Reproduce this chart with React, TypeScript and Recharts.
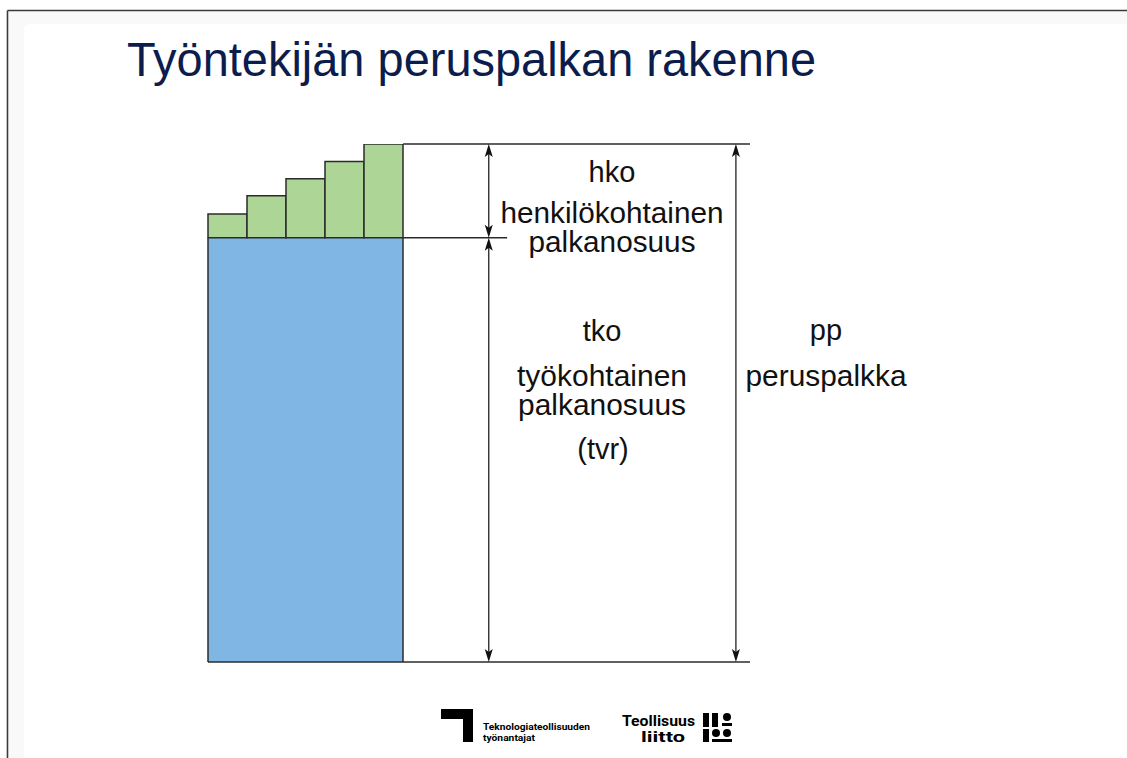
import React from 'react';
import { BarChart, Bar, XAxis, YAxis, ReferenceLine, LineChart } from 'recharts';

// ---- data ----
const steps = ['1', '2', '3', '4', '5'];
const tkoValues = [81.9, 81.9, 81.9, 81.9, 81.9]; // työkohtainen palkanosuus (tvr)
const hkoValues = [4.6, 8.1, 11.4, 14.7, 18.1]; // henkilökohtainen palkanosuus
const ppValue = 100; // peruspalkka (top)
const tkoValue = 81.9;

const title = 'Työntekijän peruspalkan rakenne';
const hkoLabel = ['hko', 'henkilökohtainen', 'palkanosuus'];
const tkoLabel = ['tko', 'työkohtainen', 'palkanosuus', '(tvr)'];
const ppLabel = ['pp', 'peruspalkka'];

const data = steps.map((s, i) => ({ step: s, tko: tkoValues[i], hko: hkoValues[i] }));
const annExtent = [0, 100];
const annData = annExtent.map((a) => ({ a }));

// ---- layout (annotation axis 0..100 spans the plot width) ----
const W = 1127;
const H = 758;
const PLOT_LEFT = 208;
const PLOT_RIGHT = 750;
const PLOT_TOP = 144;
const PLOT_BOTTOM = 662;
const BAR_RIGHT = 403;
const ANN = {
  barRight: 36,
  hkoArrow: 51.8,
  midLineEnd: 55.2,
  ppArrow: 97.4,
  end: 100,
};
const MARGIN = { left: PLOT_LEFT, right: W - PLOT_RIGHT, top: PLOT_TOP, bottom: H - PLOT_BOTTOM };

const BLUE = '#80b6e4';
const GREEN = '#acd596';
const EDGE = '#2b2b2b';
const FONT = '"Liberation Sans", Arial, Helvetica, sans-serif';
const LOGO_FONT = "Roboto, 'Noto Sans', sans-serif";

const BlueShape = (p: any) => {
  const { x, y, width, height, index } = p;
  return (
    <g>
      <rect x={x} y={y} width={width} height={height} fill={BLUE} />
      {index === 0 && <line x1={x} y1={y} x2={x} y2={y + height} stroke={EDGE} strokeWidth={1.5} />}
      {index === steps.length - 1 && (
        <line x1={x + width} y1={y} x2={x + width} y2={y + height} stroke={EDGE} strokeWidth={1.5} />
      )}
    </g>
  );
};

const ArrowShape = (p: any) => {
  const { x1, y1, x2, y2 } = p;
  if (x1 == null || y1 == null || y2 == null) return <g />;
  const x = x1;
  const top = Math.min(y1, y2);
  const bot = Math.max(y1, y2);
  const hl = 13;
  const hw = 4;
  return (
    <g>
      <line x1={x} y1={top + 4} x2={x} y2={bot - 4} stroke="#222" strokeWidth={1.3} />
      <polygon points={`${x},${top} ${x - hw},${top + hl} ${x},${top + hl - 3} ${x + hw},${top + hl}`} fill="#111" />
      <polygon points={`${x},${bot} ${x - hw},${bot - hl} ${x},${bot - hl + 3} ${x + hw},${bot - hl}`} fill="#111" />
    </g>
  );
};

const Label = ({ x, y, text, len }: { x: number; y: number; text: string; len?: number }) => (
  <text
    x={x}
    y={y}
    textAnchor="middle"
    fontFamily={FONT}
    fontSize={29}
    fill="#111"
    {...(len ? { textLength: len, lengthAdjust: 'spacingAndGlyphs' } : {})}
  >
    {text}
  </text>
);

export default function App() {
  return (
    <div style={{ position: 'absolute', left: 0, top: 0, width: W, height: H, background: '#ffffff' }}>
      <svg width={W} height={H} style={{ position: 'absolute', left: 0, top: 0 }}>
        <rect x={9} y={11} width={W} height={H} fill="#f9f9f9" />
        <rect x={24} y={24} width={W} height={H} fill="#ffffff" rx={6} />
      </svg>
      <div style={{ position: 'absolute', left: 0, top: 0 }}>
        <BarChart width={W} height={H} data={data} barCategoryGap={0} barGap={0} margin={MARGIN}>
          <XAxis dataKey="step" hide padding={{ left: 0, right: PLOT_RIGHT - BAR_RIGHT }} />
          <YAxis hide domain={[0, ppValue]} allowDataOverflow />
          <Bar dataKey="tko" stackId="s" shape={BlueShape} isAnimationActive={false} />
          <Bar dataKey="hko" stackId="s" fill={GREEN} stroke={EDGE} strokeWidth={1.5} isAnimationActive={false} />
        </BarChart>
      </div>
      <div style={{ position: 'absolute', left: 0, top: 0 }}>
        <LineChart width={W} height={H} data={annData} margin={MARGIN}>
          <XAxis dataKey="a" type="number" domain={[0, 100]} hide allowDataOverflow />
          <YAxis hide domain={[0, ppValue]} allowDataOverflow />
          <ReferenceLine
            segment={[{ x: ANN.barRight, y: ppValue }, { x: ANN.end, y: ppValue }]}
            stroke={EDGE}
            strokeWidth={1.5}
            ifOverflow="visible"
          />
          <ReferenceLine
            segment={[{ x: ANN.barRight, y: tkoValue }, { x: ANN.midLineEnd, y: tkoValue }]}
            stroke={EDGE}
            strokeWidth={1.5}
            ifOverflow="visible"
          />
          <ReferenceLine
            segment={[{ x: 0, y: 0 }, { x: ANN.end, y: 0 }]}
            stroke={EDGE}
            strokeWidth={1.5}
            ifOverflow="visible"
          />
          <ReferenceLine
            segment={[{ x: ANN.hkoArrow, y: ppValue }, { x: ANN.hkoArrow, y: tkoValue }]}
            shape={ArrowShape}
            ifOverflow="visible"
          />
          <ReferenceLine
            segment={[{ x: ANN.hkoArrow, y: tkoValue }, { x: ANN.hkoArrow, y: 0 }]}
            shape={ArrowShape}
            ifOverflow="visible"
          />
          <ReferenceLine
            segment={[{ x: ANN.ppArrow, y: ppValue }, { x: ANN.ppArrow, y: 0 }]}
            shape={ArrowShape}
            ifOverflow="visible"
          />
        </LineChart>
      </div>
      <svg width={W} height={H} style={{ position: 'absolute', left: 0, top: 0, pointerEvents: 'none' }}>
        {/* slide frame */}
        <line x1={7.5} y1={10.5} x2={W} y2={10.5} stroke="#3a3a3a" strokeWidth={1.6} />
        <line x1={7.5} y1={10.5} x2={7.5} y2={H} stroke="#3a3a3a" strokeWidth={1.6} />
        {/* title */}
        <text x={127} y={76} fontFamily={FONT} fontSize={49} fill="#0c1d4d" textLength={689} lengthAdjust="spacingAndGlyphs">
          {title}
        </text>
        {/* hko */}
        <Label x={612} y={182} text={hkoLabel[0]} />
        <Label x={612} y={223} text={hkoLabel[1]} len={223} />
        <Label x={612} y={252} text={hkoLabel[2]} len={167} />
        {/* tko */}
        <Label x={602} y={341} text={tkoLabel[0]} />
        <Label x={602} y={386} text={tkoLabel[1]} len={170} />
        <Label x={602} y={415} text={tkoLabel[2]} len={168} />
        <Label x={603} y={459} text={tkoLabel[3]} />
        {/* pp */}
        <Label x={826} y={340} text={ppLabel[0]} />
        <Label x={826} y={386} text={ppLabel[1]} len={161} />
        {/* logos */}
        <rect x={441} y={709} width={32} height={10} fill="#000" />
        <rect x={463} y={709} width={10} height={33} fill="#000" />
        <text x={483} y={730} fontFamily={LOGO_FONT} fontWeight={700} fontSize={9.5} fill="#000" textLength={107} lengthAdjust="spacingAndGlyphs">
          Teknologiateollisuuden
        </text>
        <text x={483} y={741} fontFamily={LOGO_FONT} fontWeight={700} fontSize={9.5} fill="#000" textLength={52} lengthAdjust="spacingAndGlyphs">
          työnantajat
        </text>
        <text x={622} y={726} fontFamily={LOGO_FONT} fontWeight={700} fontSize={14} fill="#000" textLength={73} lengthAdjust="spacingAndGlyphs">
          Teollisuus
        </text>
        <text x={641} y={742} fontFamily={LOGO_FONT} fontWeight={700} fontSize={14} fill="#000" textLength={44} lengthAdjust="spacingAndGlyphs">
          liitto
        </text>
        <g fill="#000">
          <rect x={703} y={713} width={6} height={14} />
          <rect x={712} y={713} width={6} height={14} />
          <circle cx={727} cy={717} r={4} />
          <rect x={722} y={723} width={10} height={3} />
          <rect x={703} y={729} width={6} height={13} />
          <circle cx={716} cy={733} r={4} />
          <circle cx={727} cy={733} r={4} />
          <rect x={712} y={739} width={20} height={3} />
        </g>
      </svg>
    </div>
  );
}
